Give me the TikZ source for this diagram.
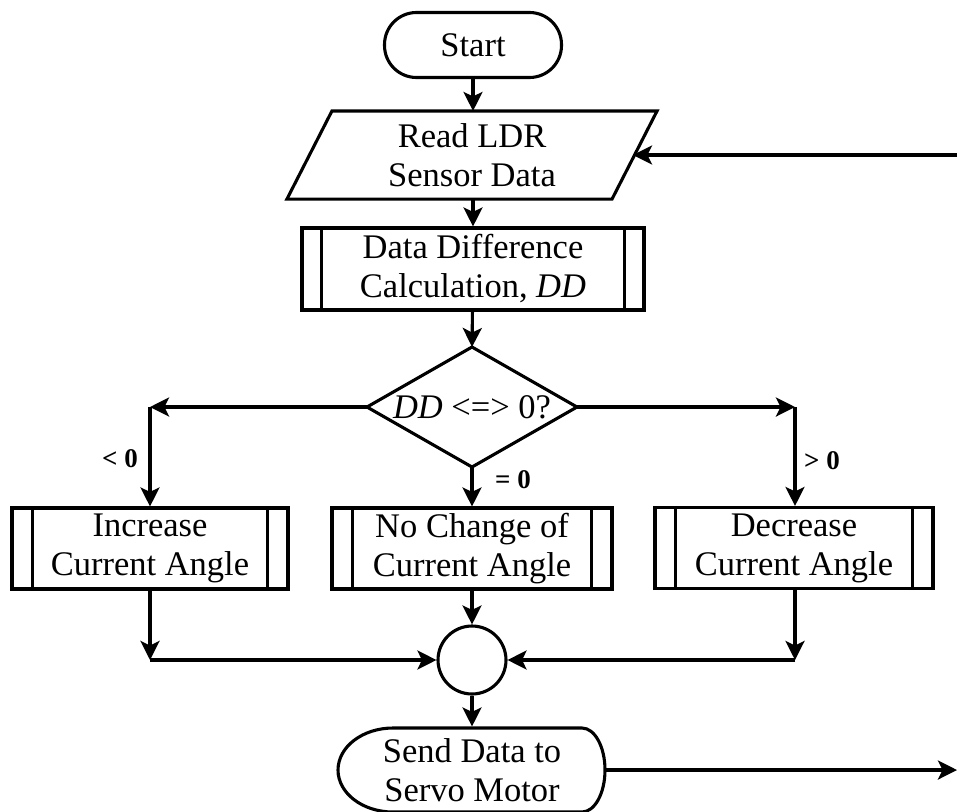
\documentclass[tikz,border=0pt]{standalone}
\usepackage{fontspec}
\setmainfont{Liberation Serif}
\usetikzlibrary{arrows.meta,calc}
\begin{document}
\begin{tikzpicture}[x=1pt,y=-1pt,
  line width=3.1pt,
  every node/.style={font=\fontsize{34.5}{39}\selectfont, align=center, inner sep=0pt},
  arr/.style={-{Stealth[length=19pt,width=19pt,inset=4.5pt]}},
  term/.style={draw, rounded corners=32pt, minimum width=177pt, minimum height=65pt},
  proc/.style={draw, minimum height=81pt},
  lbl/.style={font=\fontsize{27}{30}\selectfont\bfseries}
]
\useasboundingbox (0,0) rectangle (957,811);
\clip (0,0) rectangle (957,811);

% Start
\node[term] (start) at (473,45) {Start};

% Read LDR (parallelogram)
\node[minimum width=322pt, minimum height=85pt] (read) at (472,155) {Read LDR\\Sensor Data};
\draw ($(read.north west)+(22.5pt,0)$) -- ($(read.north east)+(22.5pt,0)$)
      -- ($(read.south east)+(-22.5pt,0)$) -- ($(read.south west)+(-22.5pt,0)$) -- cycle;

% Data difference
\node[proc, minimum width=342pt, minimum height=82pt] (dd) at (473,269) {Data Difference\\Calculation, \textit{DD}};
\foreach \n in {dd}{
  \draw ($(\n.north west)+(21pt,0)$) -- ($(\n.south west)+(21pt,0)$);
  \draw ($(\n.north east)+(-21pt,0)$) -- ($(\n.south east)+(-21pt,0)$);
}

% Decision diamond
\node (dec) at (472,407) {\textit{DD} <=> 0?};
\coordinate (dN) at (472,347);
\coordinate (dS) at (472,467);
\coordinate (dW) at (367,407);
\coordinate (dE) at (577,407);
\draw (dN) -- (dE) -- (dS) -- (dW) -- cycle;

% Three process boxes
\node[proc, minimum width=276pt] (inc) at (150,548.5) {Increase\\Current Angle};
\node[proc, minimum width=280pt] (noc) at (472,548.5) {No Change of\\Current Angle};
\node[proc, minimum width=278pt] (decr) at (794,548) {Decrease\\Current Angle};
\foreach \n in {inc,noc,decr}{
  \draw ($(\n.north west)+(22pt,0)$) -- ($(\n.south west)+(22pt,0)$);
  \draw ($(\n.north east)+(-22pt,0)$) -- ($(\n.south east)+(-22pt,0)$);
}

% Connector circle
\node[draw, circle, minimum size=68pt] (join) at (472,660) {};

% Display shape (Send data)
\node[minimum width=212pt, minimum height=84pt] (send) at (472,770) {Send Data to\\Servo Motor};
\draw (393,728) -- (582,728) arc[start angle=-90, end angle=90, x radius=23pt, y radius=-42pt]
      -- (393,812) arc[start angle=90, end angle=270, x radius=55pt, y radius=-42pt] -- cycle;
\coordinate (sendE) at (605,770);

% Corner coordinates
\coordinate (lt) at (150,407);
\coordinate (rt) at (795,407);
\coordinate (lb) at (150,660);
\coordinate (rb) at (795,660);
\coordinate (loopIn) at (957,155);
\coordinate (outR) at (957,770);
\coordinate (readE) at (633,155);

% Connectors
\draw[arr] (start) -- (read.north -| start);
\draw[arr] (read.south -| dd) -- (dd);
\draw[arr] (dd) -- (dN);
\draw[arr] (dW) -- (lt);
\draw[arr] (lt) -- (inc.north -| lt);
\draw[arr] (dE) -- (rt);
\draw[arr] (rt) -- (decr.north -| rt);
\draw[arr] (dS) -- (noc.north -| dS);
\draw[arr] (inc.south -| lb) -- (lb);
\draw[arr] (lb) -- (join.west);
\draw[arr] (decr.south -| rb) -- (rb);
\draw[arr] (rb) -- (join.east);
\draw[arr] (noc) -- (join);
\draw[arr] (join) -- (send.north -| join);
\draw[arr] (sendE) -- (outR);
\draw[arr] (loopIn) -- (readE);

% Labels
\node[lbl] (l1) at (120,459) {< 0};
\node[lbl] (l2) at (513,480) {= 0};
\node[lbl] (l3) at (822,461) {> 0};
\end{tikzpicture}
\end{document}
